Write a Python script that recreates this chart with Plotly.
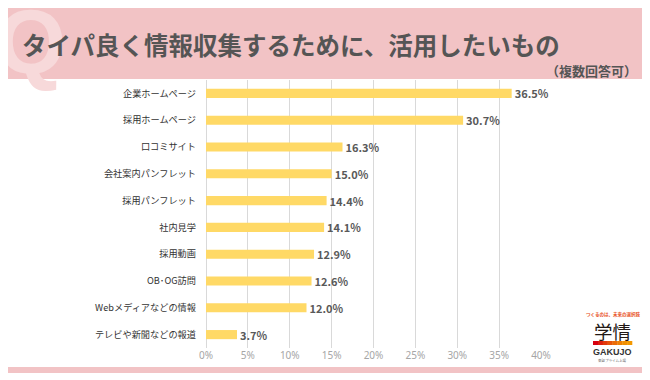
import plotly.graph_objects as go

categories = ["企業ホームページ", "採用ホームページ", "口コミサイト", "会社案内パンフレット",
              "採用パンフレット", "社内見学", "採用動画", "OB･OG訪問",
              "Webメディアなどの情報", "テレビや新聞などの報道"]
values = [36.5, 30.7, 16.3, 15.0, 14.4, 14.1, 12.9, 12.6, 12.0, 3.7]
tick_vals = [0, 5, 10, 15, 20, 25, 30, 35, 40]
tick_text = [f"{v}%" for v in tick_vals]

title = "タイパ良く情報収集するために、活用したいもの"
subtitle = "（複数回答可）"

JP = "Noto Sans CJK JP, Noto Sans, sans-serif"
PINK = "#F2C3C5"

OFF = 8  # page body margin
W, H = 650, 380
# plot area in screen pixels
L, R, T, B = 206, 541, 80, 348


def px(x):
    return (x - L) / (R - L)


def py(y):
    return (B - y) / (B - T)


fig = go.Figure(go.Bar(
    x=values, y=categories, orientation="h",
    marker=dict(color="#FFD966", line=dict(width=0)),
    texttemplate="%{x:.1f}%", textposition="outside", cliponaxis=False,
    constraintext="none",
    textfont=dict(family=JP, size=11, color="#595959", weight="bold"),
    hoverinfo="skip",
))

shapes = [
    dict(type="rect", xref="paper", yref="paper", layer="below",
         x0=px(0), x1=px(660), y0=py(7), y1=py(373),
         fillcolor=PINK, line=dict(width=0)),
    dict(type="rect", xref="paper", yref="paper", layer="below",
         x0=px(5), x1=px(644), y0=py(79), y1=py(367),
         fillcolor="white", line=dict(width=0)),
]

# logo gradient bar
grad = ["#D7000F", "#DC1E0E", "#E13A0C", "#E6550A", "#EA6C07", "#EE8004", "#F19002", "#F39800"]
gx0, gx1 = 593, 632
seg = (gx1 - gx0) / len(grad)
for i, c in enumerate(grad):
    shapes.append(dict(type="rect", xref="paper", yref="paper", layer="above",
                       x0=px(gx0 + i * seg), x1=px(gx0 + (i + 1) * seg + 0.3),
                       y0=py(341), y1=py(345),
                       fillcolor=c, line=dict(width=0)))

annotations = [
    dict(text="Q", x=px(31), y=py(42), xref="paper", yref="paper", showarrow=False,
         font=dict(family="Liberation Sans, Arial", size=90, color="#F7D9DA", weight="bold"),
         xanchor="center", yanchor="middle"),
    dict(text=title, x=px(20), y=py(44), xref="paper", yref="paper", showarrow=False,
         font=dict(family=JP, size=24.5, color="#555555", weight="bold"),
         xanchor="left", yanchor="middle"),
    dict(text=subtitle, x=px(639), y=py(70), xref="paper", yref="paper", showarrow=False,
         font=dict(family=JP, size=13, color="#555555", weight="bold"),
         xanchor="right", yanchor="middle"),
    dict(text="つくるのは、未来の選択肢", x=px(613), y=py(314), xref="paper", yref="paper",
         showarrow=False, font=dict(family=JP, size=4.5, color="#E8501E", weight="bold"),
         xanchor="center", yanchor="middle"),
    dict(text="学情", x=px(612), y=py(331), xref="paper", yref="paper", showarrow=False,
         font=dict(family=JP, size=18.5, color="#231815"),
         xanchor="center", yanchor="middle"),
    dict(text="GAKUJO", x=px(612), y=py(352), xref="paper", yref="paper", showarrow=False,
         font=dict(family="Liberation Sans, Arial", size=9, color="#333333", weight="bold"),
         xanchor="center", yanchor="middle"),
    dict(text="東証プライム上場", x=px(612), y=py(360), xref="paper", yref="paper", showarrow=False,
         font=dict(family=JP, size=3.5, color="#666666"),
         xanchor="center", yanchor="middle"),
]

fig.update_layout(
    width=W, height=H,
    margin=dict(l=L - OFF, r=W - (R - OFF), t=T - OFF, b=H - (B - OFF)),
    paper_bgcolor="white", plot_bgcolor="white",
    bargap=0.66, showlegend=False,
    shapes=shapes, annotations=annotations,
    xaxis=dict(range=[0, 40], tickvals=tick_vals, ticktext=tick_text, automargin=False,
               showgrid=True, gridcolor="#D9D9D9", gridwidth=1,
               zeroline=True, zerolinecolor="#D9D9D9", zerolinewidth=1,
               showline=False, ticks="",
               tickfont=dict(family="Noto Sans, sans-serif", size=10, color="#A6A6A6"),
               fixedrange=True),
    yaxis=dict(autorange="reversed", showgrid=False, showline=False, ticks="", automargin=False,
               ticklabelstandoff=9,
               tickfont=dict(family=JP, size=9.2, color="#333333"),
               fixedrange=True),
)

fig.write_html("out.html")
